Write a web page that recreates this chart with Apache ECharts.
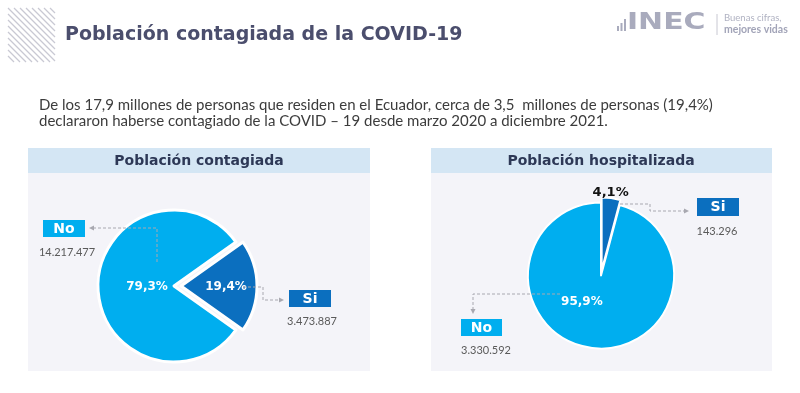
<!DOCTYPE html>
<html>
<head>
<meta charset="utf-8">
<script src="https://cdn.jsdelivr.net/npm/echarts@6/dist/echarts.min.js"></script>
<style>
html,body{margin:0;padding:0;background:#fff;}
#c{width:800px;height:393px;}
</style>
</head>
<body>
<div id="c"></div>
<script>
// ---- data ----
const titleText = 'Población contagiada de la COVID-19';
const paragraphLines = [
  'De los 17,9 millones de personas que residen en el Ecuador, cerca de 3,5  millones de personas (19,4%)',
  'declararon haberse contagiado de la COVID – 19 desde marzo 2020 a diciembre 2021.'
];
const panelTitles = ['Población contagiada', 'Población hospitalizada'];
const categories = ['Si', 'No'];
const contagiadaValues = [3473887, 14217477];
const contagiadaPct = ['19,4%', '79,3%'];
const contagiadaCounts = ['3.473.887', '14.217.477'];
const hospitalizadaValues = [143296, 3330592];
const hospitalizadaPct = ['4,1%', '95,9%'];
const hospitalizadaCounts = ['143.296', '3.330.592'];

const COL_NO = '#00aeef';
const COL_SI = '#0b6fbf';

const chart = echarts.init(document.getElementById('c'), null, {renderer: 'canvas'});

// hatch decoration
const hatch = [];
(function () {
  const x0 = 8, y0 = 8, x1 = 55, y1 = 62;
  for (let k = -(y1 - y0); k <= (x1 - x0); k += 6) {
    let ya = y0, xa = x0 + k;
    if (xa < x0) { ya = y0 + (x0 - xa); xa = x0; }
    let yb = y1, xb = x0 + k + (y1 - y0);
    if (xb > x1) { yb = y1 - (xb - x1); xb = x1; }
    if (ya < yb) hatch.push({type: 'line', shape: {x1: xa, y1: ya, x2: xb, y2: yb}, style: {stroke: '#c9c9d3', lineWidth: 1.2}, z: 1});
  }
})();

function box(x, y, w, h, color, label) {
  return [
    {type: 'rect', shape: {x: x, y: y, width: w, height: h}, style: {fill: color}, z: 20},
    {type: 'text', x: x + w / 2, y: y + h / 2 + 0.5, style: {text: label, fill: '#fff', font: 'bold 14px "DejaVu Sans"', textAlign: 'center', textVerticalAlign: 'middle'}, z: 21}
  ];
}
function valueText(x, y, t) {
  return {type: 'text', x: x, y: y, style: {text: t, fill: '#5a5a5a', font: '11px "Lato"', textAlign: 'center', textVerticalAlign: 'middle'}, z: 21};
}
function leader(points, arrow) {
  return [
    {type: 'polyline', shape: {points: points}, style: {stroke: '#a8a8b0', lineWidth: 1, lineDash: [3, 2], fill: null}, z: 20},
    {type: 'polygon', shape: {points: arrow}, style: {fill: '#a8a8b0'}, z: 20}
  ];
}

const graphics = [].concat(
  hatch,
  [
    {type: 'text', x: 65, y: 35, style: {text: titleText, fill: '#4b4e6d', font: 'bold 19px "DejaVu Sans"', textVerticalAlign: 'middle'}, z: 2},
    // logo
    {type: 'rect', shape: {x: 617, y: 26, width: 2, height: 5}, style: {fill: '#a9abbd'}},
    {type: 'rect', shape: {x: 620.5, y: 23, width: 2, height: 8}, style: {fill: '#a9abbd'}},
    {type: 'rect', shape: {x: 624, y: 19, width: 2, height: 12}, style: {fill: '#a9abbd'}},
    {type: 'text', x: 627, y: 23.5, scaleX: 1.3, scaleY: 1, originX: 0, originY: 0, style: {text: 'INEC', fill: '#a9abbd', font: 'bold 23px "DejaVu Sans"', textVerticalAlign: 'middle'}},
    {type: 'line', shape: {x1: 717, y1: 14, x2: 717, y2: 35}, style: {stroke: '#c8c8d2', lineWidth: 1}},
    {type: 'text', x: 724, y: 18, style: {text: 'Buenas cifras,', fill: '#b0b2c2', font: '9.5px "Lato"', textVerticalAlign: 'middle'}},
    {type: 'text', x: 724, y: 30, style: {text: 'mejores vidas', fill: '#a2a4b8', font: 'bold 10.5px "Lato"', textVerticalAlign: 'middle'}},
    // paragraph
    {type: 'text', x: 39, y: 105, style: {text: paragraphLines[0], fill: '#3c3c3c', font: '15px "Lato"', textVerticalAlign: 'middle'}},
    {type: 'text', x: 39, y: 121, style: {text: paragraphLines[1], fill: '#3c3c3c', font: '15px "Lato"', textVerticalAlign: 'middle'}},
    // panels
    {type: 'rect', shape: {x: 28, y: 148, width: 342, height: 223}, style: {fill: '#f4f4f9'}, z: 0},
    {type: 'rect', shape: {x: 28, y: 148, width: 342, height: 25}, style: {fill: '#d4e6f4'}, z: 1},
    {type: 'text', x: 199, y: 161, style: {text: panelTitles[0], fill: '#2d3856', font: 'bold 14px "DejaVu Sans"', textAlign: 'center', textVerticalAlign: 'middle'}, z: 2},
    {type: 'rect', shape: {x: 431, y: 148, width: 341, height: 223}, style: {fill: '#f4f4f9'}, z: 0},
    {type: 'rect', shape: {x: 431, y: 148, width: 341, height: 25}, style: {fill: '#d4e6f4'}, z: 1},
    {type: 'text', x: 601, y: 161, style: {text: panelTitles[1], fill: '#2d3856', font: 'bold 14px "DejaVu Sans"', textAlign: 'center', textVerticalAlign: 'middle'}, z: 2}
  ],
  // left annotations
  leader([[157, 262], [157, 228], [93, 228]], [[89, 228], [94, 225.5], [94, 230.5]]),
  box(43, 220, 42, 17, COL_NO, categories[1]),
  [valueText(67, 252, contagiadaCounts[1])],
  leader([[243, 287], [263, 287], [263, 300], [280, 300]], [[284, 300], [279, 297.5], [279, 302.5]]),
  box(289, 290, 42, 17, COL_SI, categories[0]),
  [valueText(312, 321, contagiadaCounts[0])],
  // right annotations
  leader([[620, 204], [650, 204], [650, 211], [685, 211]], [[689, 211], [684, 208.5], [684, 213.5]]),
  box(697, 198, 42, 18, COL_SI, categories[0]),
  [valueText(717, 231, hospitalizadaCounts[0])],
  leader([[560, 294], [473, 294], [473, 310]], [[473, 314], [470.5, 309], [475.5, 309]]),
  box(461, 319, 41, 17, COL_NO, categories[1]),
  [valueText(486, 350, hospitalizadaCounts[1])]
);

const leftStart = 360 * contagiadaValues[0] / (contagiadaValues[0] + contagiadaValues[1]) / 2;

const option = {
  animation: false,
  backgroundColor: '#ffffff',
  graphic: {elements: graphics},
  series: [
    {
      type: 'pie',
      center: [174, 286],
      radius: [0, 76],
      startAngle: leftStart,
      clockwise: true,
      selectedMode: 'single',
      selectedOffset: 7,
      silent: true,
      itemStyle: {borderColor: '#ffffff', borderWidth: 3},
      label: {
        show: true, position: 'inside', color: '#ffffff',
        fontFamily: 'DejaVu Sans', fontWeight: 'bold', fontSize: 12,
        formatter: p => contagiadaPct[p.dataIndex]
      },
      labelLine: {show: false},
      labelLayout: p => (p.dataIndex === 1 ? {dx: 14, dy: 1} : {dx: 4, dy: 1}),
      data: categories.map((c, i) => ({
        name: c, value: contagiadaValues[i], selected: i === 0,
        itemStyle: {color: i === 0 ? COL_SI : COL_NO}
      }))
    },
    {
      type: 'pie',
      center: [601, 275.5],
      radius: [0, 73],
      startAngle: 90,
      clockwise: true,
      selectedMode: 'single',
      selectedOffset: 5,
      silent: true,
      itemStyle: {borderColor: '#ffffff', borderWidth: 2},
      label: {
        show: true, position: 'inside', color: '#ffffff',
        fontFamily: 'DejaVu Sans', fontWeight: 'bold', fontSize: 12,
        formatter: p => hospitalizadaPct[p.dataIndex]
      },
      labelLine: {show: false, length: 4, length2: 0},
      labelLayout: p => (p.dataIndex === 1 ? {dx: -14, dy: -13} : {dx: -24, dy: -2}),
      data: categories.map((c, i) => ({
        name: c, value: hospitalizadaValues[i], selected: i === 0,
        itemStyle: {color: i === 0 ? COL_SI : COL_NO},
        label: i === 0 ? {position: 'outside', color: '#111111', fontSize: 13} : undefined
      }))
    }
  ]
};
chart.setOption(option);
</script>
</body>
</html>
